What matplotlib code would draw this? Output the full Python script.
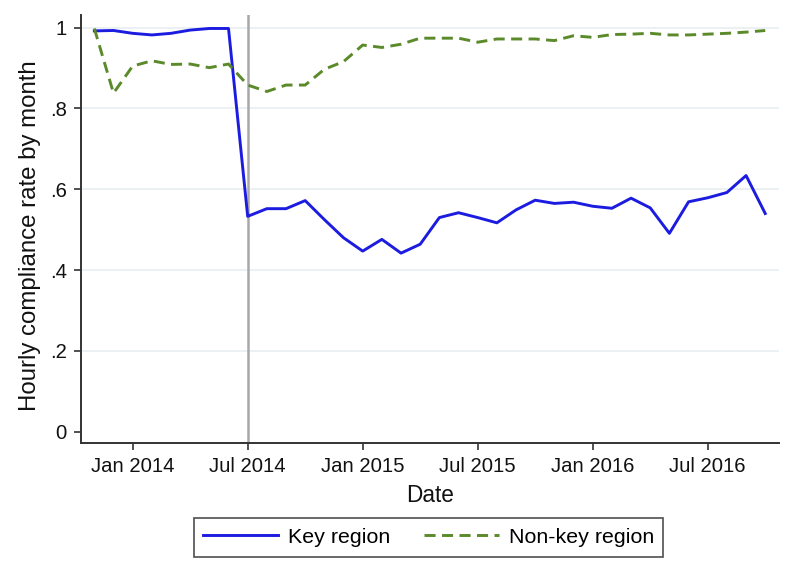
import pandas as pd
import numpy as np
import matplotlib
matplotlib.use("Agg")
import matplotlib.pyplot as plt

plt.rcParams['font.family'] = ['Liberation Sans', 'DejaVu Sans']

# monthly series, Nov 2013 .. Oct 2016
months = pd.period_range('2013-11', '2016-10', freq='M')
key_region = [0.992, 0.993, 0.986, 0.982, 0.986, 0.994, 0.998, 0.998,
              0.533, 0.552, 0.552, 0.572, 0.525, 0.480, 0.447, 0.476,
              0.442, 0.464, 0.530, 0.542, 0.530, 0.517, 0.549, 0.573,
              0.565, 0.568, 0.558, 0.553, 0.578, 0.554, 0.491, 0.569,
              0.579, 0.592, 0.634, 0.540]
nonkey_region = [0.998, 0.838, 0.905, 0.918, 0.909, 0.910, 0.901, 0.910,
                 0.858, 0.842, 0.858, 0.858, 0.897, 0.916, 0.957, 0.951,
                 0.959, 0.974, 0.974, 0.974, 0.964, 0.972, 0.972, 0.972,
                 0.968, 0.980, 0.976, 0.983, 0.984, 0.986, 0.982, 0.982,
                 0.984, 0.986, 0.989, 0.993]
tick_labels = ['Jan 2014', 'Jul 2014', 'Jan 2015', 'Jul 2015', 'Jan 2016', 'Jul 2016']
y_ticks = [0, 0.2, 0.4, 0.6, 0.8, 1]
y_labels = ['0', '.2', '.4', '.6', '.8', '1']
event_month = 'Jul 2014'

# months counted from Jan 2014 (Stata %tm style, equal spacing)
x = np.array([(p.year - 2014) * 12 + p.month - 1 for p in months])
tick_pos = [(pd.Period(t, freq='M').year - 2014) * 12 + pd.Period(t, freq='M').month - 1
            for t in tick_labels]
event_x = tick_pos[tick_labels.index(event_month)]

fig = plt.figure(figsize=(8, 5.69), dpi=100)
ax = fig.add_axes([0.1009, 0.2214, 0.8729, 0.7527])

for yv in y_ticks[1:]:
    ax.axhline(yv, color='#e8eff1', lw=1.2, zorder=0)
ax.axvline(event_x, color='#a8a8a8', lw=1.8, zorder=1)

ax.plot(x, key_region, color='#1c1ce0', lw=2.1, label='Key region', zorder=3)
ax.plot(x, nonkey_region, color='#5a8a2a', lw=2.1, ls=(0, (3.8, 2.2)),
        label='Non-key region', zorder=3)

ax.set_xlim(-2.71, 33.72)
ax.set_ylim(-0.028, 1.032)
ax.set_xticks(tick_pos)
ax.set_xticklabels(tick_labels)
ax.set_yticks(y_ticks)
ax.set_yticklabels(y_labels)

for s in ['top', 'right']:
    ax.spines[s].set_visible(False)
for s in ['left', 'bottom']:
    ax.spines[s].set_color('#333333')
    ax.spines[s].set_linewidth(1.4)
ax.tick_params(axis='both', length=5, width=1.2, color='#333333',
               labelsize=14.6, labelcolor='#111111', pad=5)

ax.set_xlabel('Date', fontsize=16.3, color='#111111', labelpad=6)
ax.set_ylabel('Hourly compliance rate by month', fontsize=17.3, color='#111111')
ax.yaxis.set_label_coords(-0.057, 0.485)

leg = fig.legend(loc='center', bbox_to_anchor=(0.5356, 0.0554), ncol=2,
                 fontsize=15.4, frameon=True, fancybox=False, handlelength=3.5,
                 handletextpad=0.45, columnspacing=1.6, borderpad=0.45)
leg.get_frame().set_edgecolor('#222222')
leg.get_frame().set_linewidth(1.2)

fig.savefig('out.png', dpi=100, facecolor='white')
